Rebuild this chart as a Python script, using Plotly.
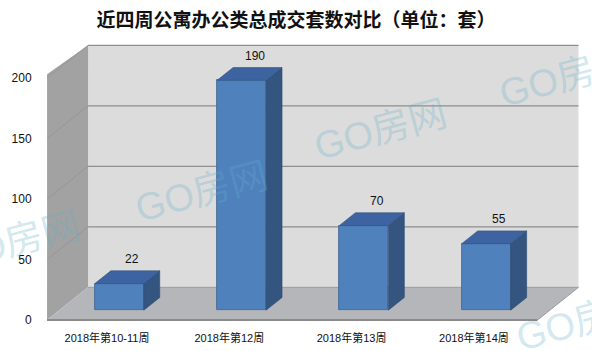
import plotly.graph_objects as go

# ---- data ----
categories = ["2018年第10-11周", "2018年第12周", "2018年第13周", "2018年第14周"]
values = [22, 190, 70, 55]
y_ticks = [0, 50, 100, 150, 200]
title_text = "近四周公寓办公类总成交套数对比（单位：套）"
watermark = "GO房网"

# ---- layout frame (pixels) ----
FIG_W, FIG_H = 592, 351
ML, MR, MT, MB = 40, 0, 35, 23
PW, PH = FIG_W - ML - MR, FIG_H - MT - MB

# ---- 3D-ish geometry (in axis units) ----
DX = 0.335      # full depth shift along x (category units)
DY = 27.0       # full depth shift along y (value units)
X0, X1 = -0.49, 3.52   # floor front edge extent
YMAX = 200
D0 = 0.30       # depth where bar front faces sit
DD = 0.39       # bar depth
W = 0.40        # bar width

idx = list(range(len(categories)))
xc = [i + D0 * DX for i in idx]
base = D0 * DY

fig = go.Figure()

# front faces
fig.add_trace(go.Bar(
    x=xc, y=values, base=[base] * len(values), width=W,
    marker=dict(color="#4f81bd", line=dict(color="#3b6291", width=0.8)),
    hoverinfo="skip", showlegend=False))

# side and top faces derived from data
for x, v in zip(xc, values):
    xl, xr = x - W / 2, x + W / 2
    top = base + v
    fig.add_trace(go.Scatter(
        x=[xr, xr + DD * DX, xr + DD * DX, xr, xr],
        y=[base, base + DD * DY, top + DD * DY, top, base],
        mode="lines", fill="toself", fillcolor="#33557f",
        line=dict(color="#2b4a70", width=0.6),
        hoverinfo="skip", showlegend=False))
    fig.add_trace(go.Scatter(
        x=[xl, xr, xr + DD * DX, xl + DD * DX, xl],
        y=[top, top, top + DD * DY, top + DD * DY, top],
        mode="lines", fill="toself", fillcolor="#3d64a0",
        line=dict(color="#2f5080", width=0.6),
        hoverinfo="skip", showlegend=False))

shapes = []
# back wall
shapes.append(dict(type="path", layer="below", xref="x", yref="y",
                   path=f"M {X0+DX} {DY} L {X1+DX} {DY} L {X1+DX} {YMAX+DY} L {X0+DX} {YMAX+DY} Z",
                   fillcolor="#dcdcdc", line=dict(width=0)))
# left wall
shapes.append(dict(type="path", layer="below", xref="x", yref="y",
                   path=f"M {X0} 0 L {X0+DX} {DY} L {X0+DX} {YMAX+DY} L {X0} {YMAX+3} Z",
                   fillcolor="#a2a2a2", line=dict(width=0)))
# floor
shapes.append(dict(type="path", layer="below", xref="x", yref="y",
                   path=f"M {X0} 0 L {X1} 0 L {X1+DX} {DY} L {X0+DX} {DY} Z",
                   fillcolor="#b4b6ba", line=dict(width=0)))
# gridlines
for t in y_ticks[1:]:
    shapes.append(dict(type="line", layer="below", xref="x", yref="y",
                       x0=X0 + DX, x1=X1 + DX, y0=t + DY, y1=t + DY,
                       line=dict(color="#8e8e8e", width=1.3)))
    shapes.append(dict(type="line", layer="below", xref="x", yref="y",
                       x0=X0, x1=X0 + DX, y0=t, y1=t + DY,
                       line=dict(color="#939393", width=0.8)))
# floor edges
shapes.append(dict(type="line", layer="below", xref="x", yref="y",
                   x0=X0, x1=X1, y0=0, y1=0, line=dict(color="#8a8a8a", width=2)))
shapes.append(dict(type="line", layer="below", xref="x", yref="y",
                   x0=X1, x1=X1 + DX, y0=0, y1=DY, line=dict(color="#9a9a9a", width=1)))
shapes.append(dict(type="line", layer="below", xref="x", yref="y",
                   x0=X0 + DX, x1=X1 + DX, y0=DY, y1=DY, line=dict(color="#9a9a9a", width=1)))

annotations = []
for i, v in zip(idx, values):
    annotations.append(dict(
        x=i + (D0 + DD / 2) * DX, y=base + v + DD * DY,
        xref="x", yref="y", text=str(v), showarrow=False,
        yanchor="bottom", yshift=3, xshift=5,
        font=dict(family="Liberation Sans, Noto Sans CJK SC", size=12, color="#111111")))

# watermarks (paper coords are relative to the plot area)
for px, py in [(13, 242), (201, 192), (380, 130), (565, 77), (582, 321)]:
    annotations.append(dict(
        x=(px - ML) / PW, y=(FIG_H - MB - py) / PH, xref="paper", yref="paper",
        text=watermark, showarrow=False, textangle=-15,
        xanchor="center", yanchor="middle",
        font=dict(family="Liberation Sans, Noto Sans CJK SC", size=38,
                  color="rgba(100,175,200,0.30)")))

fig.update_layout(
    width=FIG_W, height=FIG_H,
    margin=dict(l=ML, r=MR, t=MT, b=MB),
    paper_bgcolor="white", plot_bgcolor="white",
    title=dict(text=title_text, x=0.5, xanchor="center", y=1 - 20 / FIG_H,
               yanchor="middle", yref="container",
               font=dict(family="Noto Sans CJK SC", size=19, color="#111111", weight="bold")),
    xaxis=dict(range=[(40 - 107) / 122.3, (592 - 107) / 122.3],
               tickvals=idx, ticktext=categories, showgrid=False, zeroline=False,
               showline=False, ticks="", ticklabelstandoff=2,
               tickfont=dict(family="Liberation Sans, Noto Sans CJK SC", size=11, color="#111111")),
    yaxis=dict(range=[(320 - 328) / 1.21, (320 - 35) / 1.21],
               tickvals=y_ticks, showgrid=False, zeroline=False, showline=False,
               ticks="outside", ticklen=5, tickcolor="rgba(0,0,0,0)",
               tickfont=dict(family="Liberation Sans, Noto Sans CJK SC", size=12, color="#111111")),
    shapes=shapes, annotations=annotations, bargap=0,
)

fig.write_html("out.html")
